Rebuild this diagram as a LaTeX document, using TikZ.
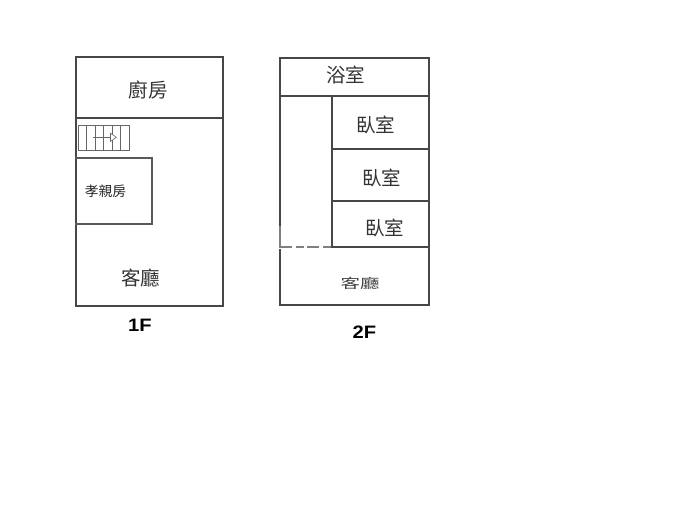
\documentclass[tikz,border=0pt]{standalone}
\usepackage{fontspec}
\setmainfont{Liberation Sans}
\newfontfamily\cjk{Noto Sans CJK TC}
\tikzset{
  wall/.style={draw=black!72,line width=2pt,line cap=rect},
  thinwall/.style={draw=black!72,line width=2pt,line cap=rect},
  faintwall/.style={draw=black!50,line width=1.8pt},
  stair/.style={draw=black!60,line width=.6pt},
  room/.style={inner sep=0pt,text=black!80,font=\cjk\fontsize{19.5}{21}\selectfont},
  smallroom/.style={inner sep=0pt,text=black!85,font=\cjk\fontsize{13.8}{15}\selectfont},
  floorlabel/.style={inner sep=0pt,text=black,xscale=1.12,font=\bfseries\fontsize{18}{20}\selectfont},
}
\begin{document}
\begin{tikzpicture}[x=1pt,y=-1pt]
\useasboundingbox (0,0) rectangle (691,511);
% 1F
\draw[wall] (76,57) rectangle (223,306);
\draw[wall] (76,117.7) -- (223,117.7);
\draw[wall,draw=black!65,line width=2.3pt] (76,157.7) -- (152,157.7) -- (152,224) -- (76,224);
\draw[stair] (78.3,125) rectangle (129,150.7);
\foreach \x in {86.7,95,103.3,112,120.7} \draw[stair] (\x,125) -- (\x,150.7);
\draw[stair] (93.3,137.3) -- (110.5,137.3);
\draw[stair,fill=white] (110.5,133.2) -- (116.3,137.3) -- (110.5,141.4) -- cycle;
\node[room] (kitchen) at (148.3,89.5) {廚房};
\node[smallroom] (elder) at (105.5,191) {孝親房};
\node[room] (living1) at (140.5,278.5) {客廳};
\node[floorlabel] (f1) at (140,325.5) {1F};
% 2F
\draw[faintwall] (279.6,225) -- (279.6,248);
\draw[thinwall] (279.6,225) -- (279.6,58.3) -- (429.4,58.3) -- (429.4,305) -- (280.4,305) -- (280.4,250);
\draw[thinwall] (279.6,95.7) -- (429.4,95.7);
\draw[thinwall] (332.2,95.7) -- (332.2,247.3);
\draw[thinwall] (332.2,149) -- (429.4,149);
\draw[thinwall] (332.2,201) -- (429.4,201);
\draw[thinwall] (332.2,247.3) -- (429.4,247.3);
\draw[faintwall,dash pattern=on 12pt off 4pt on 8pt off 3pt] (280,247.3) -- (332.2,247.3);
\node[room] (bath) at (345.5,75.5) {浴室};
\node[room] (bed1) at (375.5,125) {臥室};
\node[room] (bed2) at (381.5,177.5) {臥室};
\node[room] (bed3) at (384.5,227.5) {臥室};
\node[room,yscale=.68,text=black!75] (living2) at (360,283) {客廳};
\node[floorlabel] (f2) at (364.5,332) {2F};
\end{tikzpicture}
\end{document}
